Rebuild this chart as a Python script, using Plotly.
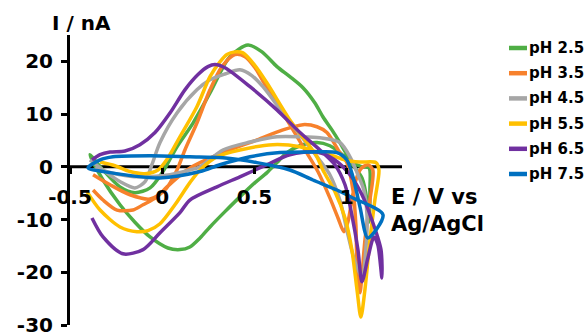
import plotly.graph_objects as go

# Cyclic voltammograms recorded at different pH values
names = ["pH 2.5", "pH 3.5", "pH 4.5", "pH 5.5", "pH 6.5", "pH 7.5"]
colors = ["#4FAE45", "#F7812C", "#A6A6A6", "#FFC000", "#7030A0", "#0070C0"]

e_ph25 = [-0.392, -0.321, -0.229, -0.148, -0.066, 0.004, 0.080, 0.167, 0.259, 0.367, 0.465, 0.541,
          0.622, 0.692, 0.763, 0.828, 0.871, 0.920, 0.963, 1.001, 1.034, 1.083, 1.121, 1.126, 1.121,
          1.110, 1.083, 1.045, 1.007, 0.963, 0.909, 0.839, 0.747, 0.676, 0.622, 0.568, 0.503, 0.421,
          0.340, 0.259, 0.205, 0.150, 0.096, 0.031, -0.066, -0.148, -0.229, -0.321, -0.392]
i_ph25 = [2.3, -0.6, -3.8, -4.9, -4.0, -0.9, 3.8, 8.3, 14.0, 20.9, 23.1, 21.8,
          19.0, 17.1, 15.0, 12.1, 9.5, 7.0, 4.6, 2.3, 0.8, 0.0, -0.2, -4.4, -10.5,
          -6.3, -2.1, -0.2, 1.3, 2.7, 4.0, 4.6, 4.0, 2.7, 0.8, -1.1, -3.0, -5.7,
          -8.5, -11.4, -13.5, -15.2, -15.7, -15.4, -13.3, -10.5, -7.2, -2.5, 2.3]

e_ph35 = [-0.375, -0.283, -0.175, -0.066, 0.015, 0.080, 0.123, 0.188, 0.259, 0.324, 0.394, 0.449,
          0.503, 0.557, 0.627, 0.692, 0.774, 0.844, 0.909, 0.953, 0.985, 1.007, 1.028, 1.050, 1.077,
          1.115, 1.142, 1.126, 1.099, 1.083, 1.072, 1.056, 1.050, 1.034, 1.001, 0.963, 0.893, 0.839,
          0.763, 0.654, 0.514, 0.329, 0.205, 0.134, 0.026, -0.028, -0.104, -0.159, -0.245, -0.321, -0.375]
i_ph35 = [-1.5, -3.4, -5.3, -6.1, -4.4, -0.6, 3.2, 8.3, 14.6, 19.0, 21.3, 20.9,
          18.8, 15.6, 11.8, 8.0, 3.2, -0.9, -5.9, -9.7, -12.3, -10.4, -6.3, -2.5, -0.4,
          0.4, -0.6, -6.3, -13.9, -20.5, -23.9, -18.6, -11.0, -4.4, 0.8, 2.7, 6.5, 7.6,
          8.0, 7.0, 5.1, 2.7, 0.8, -0.6, -3.8, -5.7, -7.2, -8.2, -8.2, -6.3, -4.4]

e_ph45 = [-0.392, -0.310, -0.229, -0.148, -0.093, -0.056, -0.012, 0.080, 0.188, 0.259, 0.340, 0.421,
          0.486, 0.546, 0.654, 0.747, 0.844, 0.909, 0.963, 1.007, 1.045, 1.083, 1.104, 1.110, 1.093,
          1.056, 1.018, 0.963, 0.855, 0.747, 0.622, 0.476, 0.329, 0.205, 0.150, 0.042, -0.121, -0.256, -0.364]
i_ph45 = [1.3, -0.9, -2.8, -4.0, -2.8, 0.4, 4.6, 10.2, 14.6, 16.5, 17.6, 18.4,
          17.3, 15.2, 10.2, 6.1, 1.7, -1.5, -6.3, -12.9, -18.0, -20.9, -15.7, -9.1, -4.4,
          -1.1, 1.9, 4.6, 5.5, 5.7, 5.7, 4.7, 3.2, 0.0, -0.6, -1.5, -1.9, -1.3, -0.2]

e_ph55 = [-0.337, -0.256, -0.175, -0.093, -0.023, 0.031, 0.096, 0.188, 0.259, 0.313, 0.351, 0.394,
          0.438, 0.503, 0.568, 0.692, 0.785, 0.839, 0.871, 0.936, 0.991, 1.028, 1.056, 1.077, 1.099,
          1.126, 1.153, 1.175, 1.159, 1.072, 0.991, 0.909, 0.839, 0.747, 0.600, 0.421, 0.297, 0.205,
          0.150, 0.069, -0.012, -0.077, -0.137, -0.229, -0.337, -0.408]
i_ph55 = [0.9, 0.2, -0.9, -1.3, -0.6, 1.7, 5.7, 11.4, 17.1, 19.9, 21.3, 21.8,
          21.6, 19.2, 15.9, 8.9, 4.6, 1.9, -0.6, -4.7, -9.7, -15.7, -23.3, -28.5, -23.3,
          -13.9, -6.3, -0.6, 0.8, 0.9, 1.3, 2.3, 2.8, 3.8, 4.2, 3.2, 1.9, -0.6,
          -3.0, -7.2, -10.8, -12.1, -12.3, -11.4, -8.2, -4.7]

e_ph65 = [-0.381, -0.337, -0.283, -0.202, -0.121, -0.039, 0.042, 0.123, 0.194, 0.248, 0.286, 0.340,
          0.476, 0.622, 0.747, 0.855, 0.936, 0.991, 1.028, 1.061, 1.083, 1.115, 1.148, 1.169, 1.191,
          1.186, 1.137, 1.083, 1.018, 0.936, 0.839, 0.692, 0.568, 0.421, 0.297, 0.150, 0.096, -0.012,
          -0.104, -0.213, -0.321, -0.381]
i_ph65 = [1.3, 2.3, 2.8, 3.0, 4.2, 6.5, 10.2, 14.6, 17.5, 19.0, 19.4, 18.8,
          15.2, 10.8, 6.5, 3.2, 0.4, -3.4, -9.1, -15.7, -21.8, -17.3, -13.3, -14.8, -21.1,
          -15.7, -10.1, -5.3, -1.5, 1.3, 2.8, 2.3, 0.4, -1.9, -3.8, -6.3, -8.7, -12.5,
          -15.7, -16.5, -13.3, -9.7]

e_ph75 = [-0.402, -0.337, -0.267, -0.066, 0.150, 0.329, 0.514, 0.692, 0.817, 0.947, 1.034, 1.197,
          1.115, 1.072, 1.034, 1.001, 0.947, 0.801, 0.638, 0.476, 0.313, 0.205, -0.012, -0.283, -0.402]
i_ph75 = [-0.2, 1.3, 1.9, 2.1, 1.9, 1.7, 0.8, -0.6, -2.5, -4.4, -5.9, -9.1,
          -13.5, -7.6, -1.9, 1.3, 2.7, 2.8, 2.7, 1.9, 0.4, -0.9, -2.1, -1.1, -0.2]

potentials = [e_ph25, e_ph35, e_ph45, e_ph55, e_ph65, e_ph75]
currents = [i_ph25, i_ph35, i_ph45, i_ph55, i_ph65, i_ph75]

x_ticks = [-0.5, 0, 0.5, 1]
x_tick_text = ["-0.5", "0", "0.5", "1"]
y_ticks = [-30, -20, -10, 0, 10, 20]
y_tick_text = ["-30", "-20", "-10", "0", "10", "20"]

FONT = "DejaVu Sans"
W, H = 586, 335
ML, MR, MT, MB = 70, 184, 35, 10
PW, PH = W - ML - MR, H - MT - MB
X_MIN, X_MAX = -0.5, 1.3
Y_MIN, Y_MAX = -30, 25


def px_x(p):
    return (p - ML) / PW


def px_y(p):
    return (H - MB - p) / PH


fig = go.Figure()
for e, i, name, color in zip(potentials, currents, names, colors):
    fig.add_trace(go.Scatter(
        x=e, y=i, name=name, mode="lines",
        line=dict(color=color, width=3.5, shape="spline", smoothing=0.8),
        showlegend=False,
    ))

axis_font = dict(family=FONT, size=20, color="black", weight="bold")

fig.update_layout(
    width=W, height=H,
    margin=dict(l=ML, r=MR, t=MT, b=MB, autoexpand=False),
    paper_bgcolor="white", plot_bgcolor="white",
    xaxis=dict(
        range=[X_MIN, X_MAX], tickvals=x_ticks, ticktext=x_tick_text,
        showgrid=False, zeroline=False, showline=False, automargin=False,
        ticks="outside", ticklen=6, tickwidth=3, tickcolor="black",
        tickfont=axis_font, anchor="free", position=(0 - Y_MIN) / (Y_MAX - Y_MIN),
        layer="above traces", ticklabelstandoff=6,
    ),
    yaxis=dict(
        range=[Y_MIN, Y_MAX], tickvals=y_ticks, ticktext=y_tick_text,
        showgrid=False, zeroline=False, showline=True, linecolor="black", linewidth=3,
        ticks="outside", ticklen=6, tickwidth=3, tickcolor="black", automargin=False,
        tickfont=axis_font, layer="below traces", ticklabelstandoff=4,
        ticklabeloverflow="allow",
    ),
)

annotations = [
    dict(text="I / nA", x=px_x(50), y=px_y(23), xref="paper", yref="paper",
         xanchor="left", yanchor="middle", showarrow=False,
         font=dict(family=FONT, size=20, color="black", weight="bold")),
    dict(text="E / V vs<br>Ag/AgCl", x=px_x(389), y=px_y(183), xref="paper", yref="paper",
         xanchor="left", yanchor="top", align="left", showarrow=False,
         font=dict(family=FONT, size=21, color="black", weight="bold")),
]

# Horizontal axis line through I = 0, kept beneath the curves
shapes = [dict(type="line", xref="x", yref="y", x0=X_MIN, x1=X_MAX, y0=0, y1=0,
               layer="below", line=dict(color="black", width=3))]

# Legend: short coloured strokes with labels stacked on the right
for k, (name, color) in enumerate(zip(names, colors)):
    yc = px_y(48 + 25.2 * k)
    shapes.append(dict(type="line", xref="paper", yref="paper",
                       x0=px_x(509), x1=px_x(527), y0=yc, y1=yc,
                       line=dict(color=color, width=4.5)))
    annotations.append(dict(text=name, x=px_x(527), y=yc, xref="paper", yref="paper",
                            xanchor="left", yanchor="middle", showarrow=False,
                            font=dict(family=FONT, size=15, color="black", weight="bold")))

fig.update_layout(annotations=annotations, shapes=shapes)
fig.write_html("out.html")
